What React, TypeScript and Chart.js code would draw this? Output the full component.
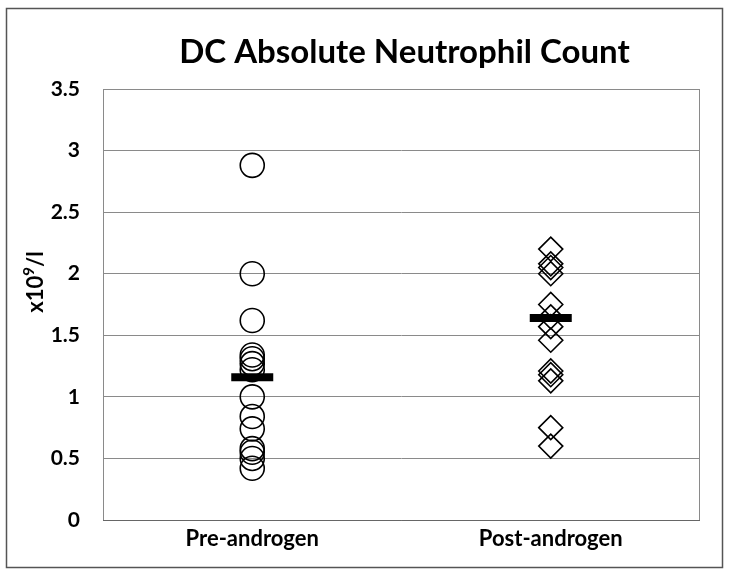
import React, { useEffect, useRef } from "react";
import { Chart, registerables } from "chart.js";

Chart.register(...registerables);

const categories = ["Pre-androgen", "Post-androgen"];
const preValues = [2.88, 2.0, 1.62, 1.34, 1.31, 1.27, 1.22, 1.0, 0.84, 0.74, 0.58, 0.55, 0.5, 0.42];
const postValues = [2.2, 2.08, 2.05, 2.0, 1.75, 1.65, 1.57, 1.46, 1.21, 1.18, 1.13, 0.75, 0.6];
const centerValues = [1.16, 1.64];
const yTicks = [0, 0.5, 1, 1.5, 2, 2.5, 3, 3.5];
const titleText = "DC Absolute Neutrophil Count";
const yTitleBase = "x10";
const yTitleSup = "9";
const yTitleTail = "/l";

const FONT = "Lato, 'Open Sans', sans-serif";

const frame = {
  id: "frame",
  beforeDatasetsDraw(chart: any) {
    const { ctx, chartArea } = chart;
    ctx.save();
    ctx.strokeStyle = "#8a8a8a";
    ctx.lineWidth = 1;
    ctx.strokeRect(chartArea.left + 0.5, chartArea.top + 0.5, chartArea.right - chartArea.left - 1, chartArea.bottom - chartArea.top);
    ctx.strokeStyle = "#666";
    ctx.beginPath();
    ctx.moveTo(chartArea.left, chartArea.bottom + 0.5);
    ctx.lineTo(chartArea.right, chartArea.bottom + 0.5);
    ctx.stroke();
    ctx.restore();
  },
  afterDraw(chart: any) {
    const { ctx, chartArea } = chart;
    ctx.save();
    ctx.strokeStyle = "#555";
    ctx.lineWidth = 1.5;
    ctx.strokeRect(6.5, 8.5, 716, 559);
    // main title
    ctx.fillStyle = "#000";
    ctx.font = `bold 33px ${FONT}`;
    ctx.textAlign = "center";
    ctx.textBaseline = "middle";
    ctx.fillText(titleText, (chartArea.left + chartArea.right) / 2 + 3, 52);
    // y axis title, rotated
    ctx.translate(35, 282);
    ctx.rotate(-Math.PI / 2);
    const baseFont = `bold 22px ${FONT}`;
    const supFont = `bold 15px ${FONT}`;
    ctx.font = baseFont;
    const w1 = ctx.measureText(yTitleBase).width;
    const w3 = ctx.measureText(yTitleTail).width;
    ctx.font = supFont;
    const w2 = ctx.measureText(yTitleSup).width;
    const total = w1 + w2 + w3;
    let x = -total / 2;
    ctx.textAlign = "left";
    ctx.textBaseline = "alphabetic";
    ctx.font = baseFont;
    ctx.fillText(yTitleBase, x, 8);
    x += w1;
    ctx.font = supFont;
    ctx.fillText(yTitleSup, x, -1);
    x += w2;
    ctx.font = baseFont;
    ctx.fillText(yTitleTail, x, 8);
    ctx.restore();
  },
};

export default function App() {
  const ref = useRef<HTMLCanvasElement>(null);
  useEffect(() => {
    if (!ref.current) return;
    const chart = new Chart(ref.current, {
      type: "line",
      data: {
        labels: categories,
        datasets: [
          {
            label: "Center",
            data: centerValues.map((v, i) => ({ x: categories[i], y: v })),
            showLine: false,
            pointStyle: "line",
            pointRadius: 21,
            pointBorderWidth: 8,
            borderColor: "#000",
            backgroundColor: "#000",
          },
          {
            label: categories[0],
            data: preValues.map((v) => ({ x: categories[0], y: v })),
            showLine: false,
            pointStyle: "circle",
            pointRadius: 12,
            pointBorderWidth: 1.6,
            borderColor: "#000",
            backgroundColor: "rgba(0,0,0,0)",
          },
          {
            label: categories[1],
            data: postValues.map((v) => ({ x: categories[1], y: v })),
            showLine: false,
            pointStyle: "rectRot",
            pointRadius: 12,
            pointBorderWidth: 1.6,
            borderColor: "#000",
            backgroundColor: "rgba(0,0,0,0)",
          },
        ],
      },
      options: {
        animation: false,
        responsive: false,
        events: [],
        layout: { padding: { left: 0, right: 24, top: 89, bottom: 0 } },
        plugins: {
          legend: { display: false },
          tooltip: { enabled: false },
          title: { display: false },
        },
        scales: {
          x: {
            type: "category",
            offset: true,
            grid: { display: false, drawTicks: false },
            border: { display: false },
            ticks: {
              color: "#000",
              font: { family: FONT, size: 22, weight: "bold" },
              padding: 6,
            },
            afterFit(scale: any) {
              scale.height = 58;
            },
          },
          y: {
            min: 0,
            max: 3.5,
            afterBuildTicks(scale: any) {
              scale.ticks = yTicks.map((v) => ({ value: v }));
            },
            grid: { color: "#8a8a8a", lineWidth: 1, drawTicks: false },
            border: { display: false },
            ticks: {
              color: "#000",
              font: { family: FONT, size: 21, weight: "bold" },
              padding: 23,
              callback: (v: any) => String(v),
            },
            afterFit(scale: any) {
              scale.width = 103;
            },
          },
        },
      },
      plugins: [frame],
    });
    return () => chart.destroy();
  }, []);
  return (
    <div style={{ position: "absolute", left: 0, top: 0, width: 729, height: 578, background: "#fff" }}>
      <canvas ref={ref} width={729} height={578} style={{ width: 729, height: 578 }} />
    </div>
  );
}
